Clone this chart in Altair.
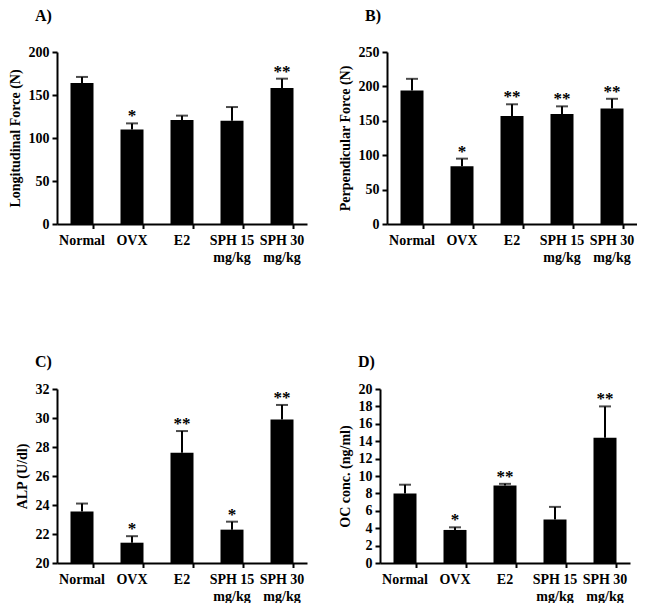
import altair as alt
import pandas as pd

categories = ["Normal", "OVX", "E2", "SPH 15 mg/kg", "SPH 30 mg/kg"]

a_vals = [164, 110, 121, 120, 158]
a_errs = [171, 117, 126, 136, 169]
a_stars = ["", "*", "", "", "**"]

b_vals = [194, 84, 157, 160, 168]
b_errs = [211, 95, 174, 171, 182]
b_stars = ["", "*", "**", "**", "**"]

c_vals = [23.55, 21.4, 27.6, 22.3, 29.9]
c_errs = [24.1, 21.85, 29.1, 22.85, 30.9]
c_stars = ["", "*", "**", "*", "**"]

d_vals = [8.0, 3.8, 8.9, 5.0, 14.4]
d_errs = [9.0, 4.1, 9.1, 6.45, 18.0]
d_stars = ["", "*", "**", "", "**"]

FONT = "Liberation Serif"
LABEL_EXPR = ("indexof(datum.label, ' mg') > 0 ? "
              "[slice(datum.label, 0, indexof(datum.label, ' mg')), 'mg/kg'] : datum.label")


def panel(vals, errs, stars, letter, ytitle, domain, step, height, title_offset):
    lo, hi = domain
    df = pd.DataFrame({
        "cat": categories,
        "val": vals,
        "err": errs,
        "star": stars,
        "base": [lo] * len(categories),
    })
    ticks = []
    v = lo
    while v <= hi + 1e-9:
        ticks.append(v)
        v += step
    xscale = alt.Scale(paddingInner=0.54, paddingOuter=0.27)
    xaxis = alt.Axis(title=None, labelAngle=0, ticks=False, labelExpr=LABEL_EXPR,
                     labelPadding=9, labelLimit=200, domainColor="black",
                     domainWidth=2, labelFontSize=14, labelLineHeight=17)
    xenc = alt.X("cat:N", sort=categories, scale=xscale, axis=xaxis)
    yscale = alt.Scale(domain=[lo, hi], nice=False, zero=False)
    yaxis = alt.Axis(values=ticks, title=ytitle, grid=False, tickSize=5,
                     tickWidth=2, domainWidth=2, domainColor="black",
                     tickColor="black", labelFontSize=14, labelPadding=3,
                     labelOverlap=False, titleFontSize=14, titlePadding=6)
    yval = alt.Y("val:Q", scale=yscale, axis=yaxis)
    yerr = alt.Y("err:Q", scale=yscale, axis=yaxis)
    base = alt.Chart(df)
    bars = base.mark_bar(color="black").encode(x=xenc, y=yval, y2="base:Q")
    rule = base.mark_rule(color="black", strokeWidth=2).encode(
        x=xenc, y=yval, y2="err:Q")
    cap = base.mark_tick(color="black", thickness=2, size=12).encode(x=xenc, y=yerr)
    star = base.mark_text(baseline="bottom", dy=2, fontSize=17, font=FONT,
                          fontWeight="bold", color="black").encode(
        x=xenc, y=yerr, text="star:N")
    xt = base.mark_rule(color="black", strokeWidth=2).encode(
        x=alt.X("cat:N", sort=categories, bandPosition=1, scale=xscale, axis=xaxis),
        y=alt.value(height), y2=alt.value(height + 5))
    return alt.layer(bars, rule, cap, star, xt).properties(
        width=250, height=height,
        title=alt.TitleParams(letter, anchor="start", frame="group", dx=-22,
                              offset=title_offset, fontSize=16, font=FONT,
                              fontWeight="bold", color="black"),
    )


pa = panel(a_vals, a_errs, a_stars, "A)", "Longitudinal Force (N)", (0, 200), 50, 172, 21)
pb = panel(b_vals, b_errs, b_stars, "B)", "Perpendicular Force (N)", (0, 250), 50, 172, 21)
pc = panel(c_vals, c_errs, c_stars, "C)", "ALP (U/dl)", (20, 32), 2, 174, 12)
pd_ = panel(d_vals, d_errs, d_stars, "D)", "OC conc. (ng/ml)", (0, 20), 2, 174, 12)

chart = alt.vconcat(
    alt.hconcat(pa, pb, spacing=31),
    alt.hconcat(pc, pd_, spacing=31),
    spacing=90,
).properties(padding=0, background="white").configure_view(stroke=None).configure_axis(
    labelFont=FONT, titleFont=FONT, labelFontWeight="bold", titleFontWeight="bold",
    labelColor="black", titleColor="black",
)

chart.save("out.html", embed_options={"renderer": "svg", "actions": False})
